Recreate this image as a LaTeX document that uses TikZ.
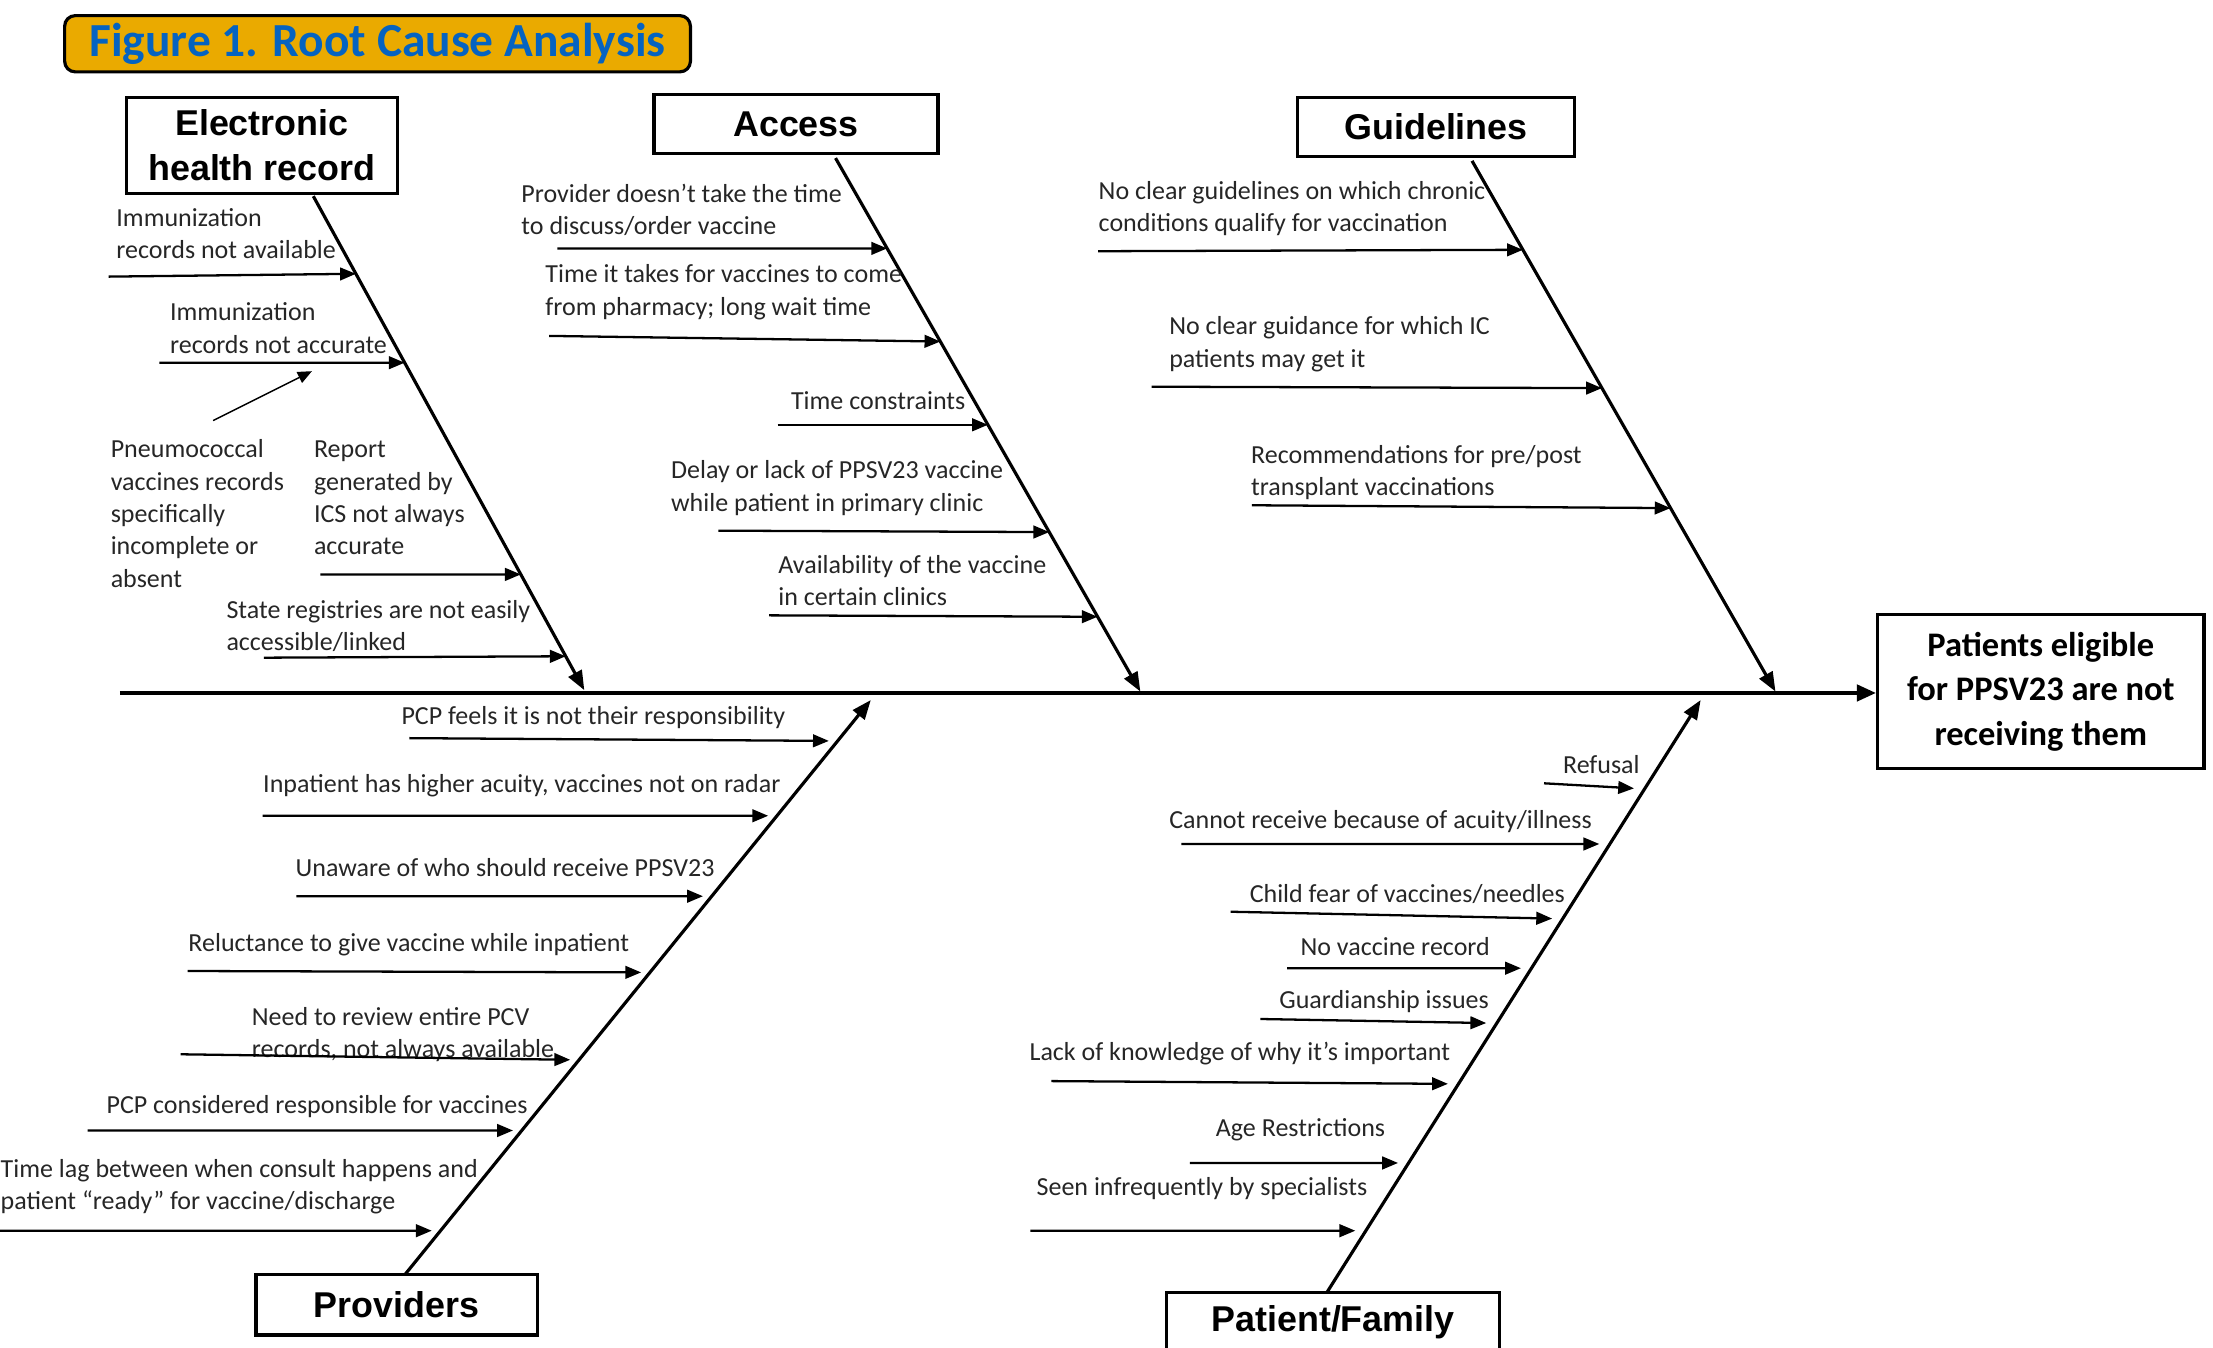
\documentclass[tikz,border=0pt]{standalone}
\usepackage{fontspec}
\setmainfont{Carlito}
\newfontfamily\headfont{Liberation Sans}
\usepackage{xcolor}
\definecolor{ink}{HTML}{262626}
\definecolor{banner}{HTML}{EAAA00}
\definecolor{bannertext}{HTML}{0563C1}
\usetikzlibrary{positioning,calc,arrows.meta}

\begin{document}
\begin{tikzpicture}[x=0.1411mm,y=-0.1411mm,
  catbox/.style={draw,line width=0.9pt,inner sep=0pt,align=center,
    font=\headfont\bfseries\fontsize{10.2}{12.8}\selectfont},
  causetxt/.style={anchor=north west,align=left,inner sep=0pt,text=ink,
    font=\fontsize{7.4}{9.2}\selectfont},
  causearr/.style={line width=0.65pt,-{Triangle[length=4.5pt,width=3.6pt]}},
  bonearr/.style={line width=0.9pt,-{Triangle[length=5.5pt,width=4.2pt]}},
  spine/.style={line width=1.2pt,-{Triangle[length=5.5pt,width=4.6pt]}}]
  \useasboundingbox (0,0) rectangle (1568,955);

  % title banner
  \node[draw,fill=banner,rounded corners=3pt,line width=0.9pt,inner sep=0pt,
    minimum width=178pt,minimum height=16pt,text=bannertext,
    font=\bfseries\fontsize{13.5}{15}\selectfont] (title) at (267.5,31)
    {Figure 1. Root Cause Analysis};

  % category boxes and effect
  \node[catbox,minimum width=77.2pt,minimum height=27.2pt] (ehr) at (185.5,103) {Electronic\\health record};
  \node[catbox,minimum width=80.8pt,minimum height=16.8pt] (acc) at (564,88) {Access};
  \node[catbox,minimum width=78.8pt,minimum height=16.8pt] (gdl) at (1017.5,90) {Guidelines};
  \node[catbox,minimum width=80pt,minimum height=17.2pt] (prv) at (281,924.5) {Providers};
  \node[catbox,minimum width=94.8pt,minimum height=16.8pt] (pf) at (944.5,937) {Patient/Family};
  \node[draw,line width=0.9pt,inner sep=0pt,align=center,minimum width=92.8pt,minimum height=44pt,
    font=\bfseries\fontsize{9.8}{12.6}\selectfont] (eff) at (1446,490)
    {Patients eligible\\for PPSV23 are not\\receiving them};

  % spine
  \coordinate (tail) at (85,491);
  \draw[spine] (tail) -- (tail -| eff.west);

  % bones
  \coordinate (ehrT) at (222,139);  \coordinate (ehrB) at (414,489);
  \coordinate (accT) at (592,112);  \coordinate (accB) at (808,490);
  \coordinate (gdlT) at (1043,114); \coordinate (gdlB) at (1258,490);
  \coordinate (prvT) at (287,903);  \coordinate (prvB) at (617,496);
  \coordinate (pfT) at (940,916);   \coordinate (pfB) at (1205,496);
  \foreach \b in {ehr,acc,gdl,prv,pf}
    \draw[bonearr] (\b T) -- (\b B);

  % electronic health record
  \foreach \tx/\ty/\xs/\ys/\ye/\txt [count=\i] in {
    82/154/77/196/194/{Immunization\\records not available},
    120/221/113/257/257/{Immunization\\records not accurate},
    222/319/227/407/407/{Report\\generated by\\ICS not always\\accurate},
    160/432/187/466/465/{State registries are not easily\\accessible/linked}} {
    \node[causetxt] (ehr-t\i) at (\tx,\ty-7) {\txt};
    \pgfmathsetmacro\f{(\ye-139)/350}
    \coordinate (ehr-s\i) at (\xs,\ys);
    \coordinate (ehr-e\i) at ($(ehrT)!\f!(ehrB)$);
    \draw[causearr] (ehr-s\i) -- (ehr-e\i);
  }
  \node[causetxt] (pneu) at (78,311) {Pneumococcal\\vaccines records\\specifically\\incomplete or\\absent};
  \coordinate (pneu-s) at (151,298);
  \coordinate (pneu-e) at (221,263);
  \draw[line width=0.4pt,-{Triangle[length=4pt,width=3.4pt]}] (pneu-s) -- (pneu-e);

  % access
  \foreach \tx/\ty/\xs/\ys/\ye/\txt [count=\i] in {
    369/137/395/176/176/{Provider doesn’t take the time\\to discuss/order vaccine},
    386/194/389/238/242/{Time it takes for vaccines to come\\from pharmacy; long wait time},
    560/284/551/301/301/{Time constraints},
    475/333/509/376/377/{Delay or lack of PPSV23 vaccine\\while patient in primary clinic},
    551/400/545/436/437/{Availability of the vaccine\\in certain clinics}} {
    \node[causetxt] (acc-t\i) at (\tx,\ty-7) {\txt};
    \pgfmathsetmacro\f{(\ye-112)/378}
    \coordinate (acc-s\i) at (\xs,\ys);
    \coordinate (acc-e\i) at ($(accT)!\f!(accB)$);
    \draw[causearr] (acc-s\i) -- (acc-e\i);
  }

  % guidelines
  \foreach \tx/\ty/\xs/\ys/\ye/\txt [count=\i] in {
    778/135/778/178/177/{No clear guidelines on which chronic\\conditions qualify for vaccination},
    828/231/816/274/275/{No clear guidance for which IC\\patients may get it},
    886/322/887/358/360/{Recommendations for pre/post\\transplant vaccinations}} {
    \node[causetxt] (gdl-t\i) at (\tx,\ty-7) {\txt};
    \pgfmathsetmacro\f{(\ye-114)/376}
    \coordinate (gdl-s\i) at (\xs,\ys);
    \coordinate (gdl-e\i) at ($(gdlT)!\f!(gdlB)$);
    \draw[causearr] (gdl-s\i) -- (gdl-e\i);
  }

  % providers
  \foreach \tx/\ty/\xs/\ys/\ye/\txt [count=\i] in {
    284/507/290/523/525/{PCP feels it is not their responsibility},
    186/555/186/578/578/{Inpatient has higher acuity, vaccines not on radar},
    209/615/210/635/635/{Unaware of who should receive PPSV23},
    133/668/133/688/689/{Reluctance to give vaccine while inpatient},
    178/720/128/747/751/{Need to review entire PCV\\records, not always available},
    75/783/62/801/801/{PCP considered responsible for vaccines},
    0/828/0/872/872/{Time lag between when consult happens and\\patient “ready” for vaccine/discharge}} {
    \node[causetxt] (prv-t\i) at (\tx,\ty-7) {\txt};
    \pgfmathsetmacro\f{(903-\ye)/407}
    \coordinate (prv-s\i) at (\xs,\ys);
    \coordinate (prv-e\i) at ($(prvT)!\f!(prvB)$);
    \draw[causearr,shorten >=2.5pt] (prv-s\i) -- (prv-e\i);
  }

  % patient / family
  \foreach \tx/\ty/\xs/\ys/\ye/\txt [count=\i] in {
    1107/542/1094/555/559/{Refusal},
    828/581/837/598/598/{Cannot receive because of acuity/illness},
    885/633/872/646/651/{Child fear of vaccines/needles},
    921/671/912/686/686/{No vaccine record},
    906/708/893/722/725/{Guardianship issues},
    729/745/745/766/768/{Lack of knowledge of why it’s important},
    861/799/843/824/824/{Age Restrictions},
    734/841/730/872/872/{Seen infrequently by specialists}} {
    \node[causetxt] (pf-t\i) at (\tx,\ty-7) {\txt};
    \pgfmathsetmacro\f{(916-\ye)/420}
    \coordinate (pf-s\i) at (\xs,\ys);
    \coordinate (pf-e\i) at ($(pfT)!\f!(pfB)$);
    \draw[causearr,shorten >=3pt] (pf-s\i) -- (pf-e\i);
  }
\end{tikzpicture}
\end{document}
